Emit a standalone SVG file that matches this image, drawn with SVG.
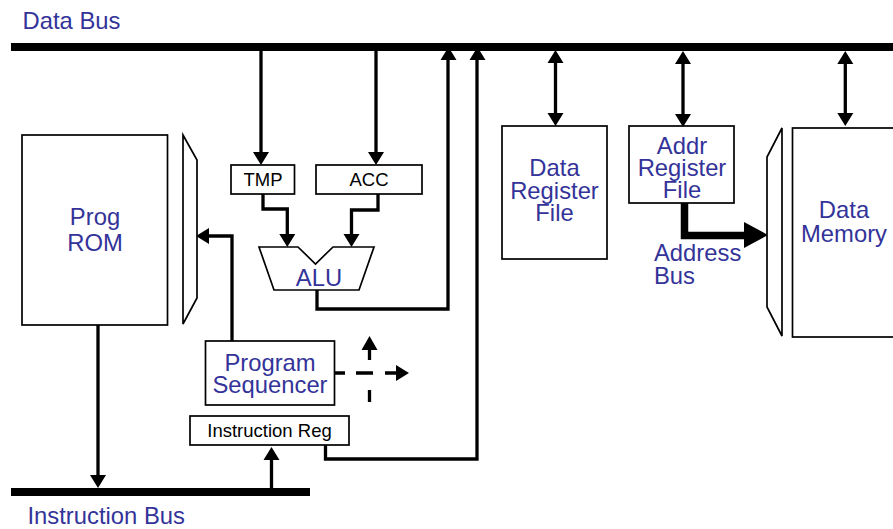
<svg xmlns="http://www.w3.org/2000/svg" width="893" height="529" viewBox="0 0 893 529">
<style>
.box{fill:#fff;stroke:#000;stroke-width:1.7}
.t{font-family:"Liberation Sans",Arial,sans-serif;font-size:23.800px;fill:#333399;text-anchor:middle}
.s{font-family:"Liberation Sans",Arial,sans-serif;font-size:18.500px;fill:#000;text-anchor:middle}
.l{text-anchor:start}
.c{fill:none;stroke:#000;stroke-width:3.300}
.h{fill:#000}
</style>
<rect width="893" height="529" fill="#fff"/>
<g id="connectors">
<path class="c" d="M261 51V152M376 51V152M263 194V209H287.300V234M378 194V210H351.500V234M317 290V309H448V60M325.500 445V459H477V60M232 341V236H208M98 325V476M271.500 488V460M555.500 62V114M683 62V114M845.300 62V114"/>
<path class="c" d="M335 373H345M356 373H373M385 373H397M369.500 360V350M369.500 390V402"/>
<path d="M684.500 203V235.500H745" fill="none" stroke="#000" stroke-width="7.500"/>
<path class="h" d="M253 152H269L261 165ZM368 152H384L376 165ZM279.300 234H295.300L287.300 247ZM343.500 234H359.500L351.500 247ZM440.500 60H456.500L448.500 47ZM469.500 60H485.500L477.500 47ZM209 228V244L196 236ZM90 475H106L98 488ZM263.500 460H279.500L271.500 447ZM361.500 350H377.500L369.500 336ZM396 365V381L409 373ZM547.500 63H563.500L555.500 50ZM547.500 113H563.500L555.500 126ZM675 64H691L683 51ZM675 114H691L683 127ZM837.300 64H853.300L845.300 51ZM837.300 113H853.300L845.300 126ZM744 222V248L768 235Z"/>
</g>
<g id="data-bus"><rect x="11" y="43" width="882" height="8"/><text class="t l" x="22.500" y="29">Data Bus</text></g>
<g id="instruction-bus"><rect x="11" y="488" width="299" height="8"/><text class="t l" x="27.500" y="524">Instruction Bus</text></g>
<g id="prog-rom"><rect class="box" x="22" y="135" width="145.500" height="190"/><text class="t" x="95" y="225">Prog</text><text class="t" x="95" y="251">ROM</text></g>
<g id="prog-mux"><path class="box" d="M183 135L197 160V298L183 324Z"/></g>
<g id="tmp"><rect class="box" x="231" y="165" width="63.500" height="29"/><text class="s" x="263" y="186">TMP</text></g>
<g id="acc"><rect class="box" x="316" y="165" width="106" height="29"/><text class="s" x="369" y="186">ACC</text></g>
<g id="alu"><path class="box" d="M259 247H298L315.500 264L333 247H374L359 290H274Z"/><text class="t" x="319" y="286">ALU</text></g>
<g id="program-sequencer"><rect class="box" x="205.500" y="341" width="129" height="64"/><text class="t" x="270" y="371">Program</text><text class="t" x="270" y="393">Sequencer</text></g>
<g id="instruction-reg"><rect class="box" x="190" y="416" width="159" height="29"/><text class="s" x="269.500" y="437">Instruction Reg</text></g>
<g id="data-register-file"><rect class="box" x="502" y="126" width="105" height="133"/><text class="t" x="554.500" y="176">Data</text><text class="t" x="554.500" y="198.500">Register</text><text class="t" x="554.500" y="220.500">File</text></g>
<g id="addr-register-file"><rect class="box" x="629" y="126" width="105" height="77"/><text class="t" x="682" y="153.500">Addr</text><text class="t" x="682" y="175.500">Register</text><text class="t" x="682" y="197.500">File</text></g>
<g id="address-bus-label"><text class="t l" x="654" y="261">Address</text><text class="t l" x="654" y="284">Bus</text></g>
<g id="memory-mux"><path class="box" d="M782 128L767 157V307L782 336Z"/></g>
<g id="data-memory"><rect class="box" x="792.500" y="128" width="110" height="209"/><text class="t" x="844" y="218">Data</text><text class="t" x="844" y="242">Memory</text></g>
</svg>
